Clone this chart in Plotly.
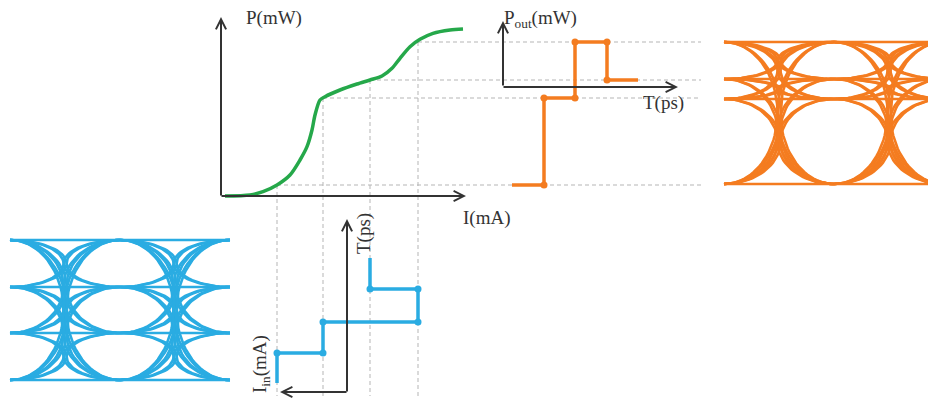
import math
import plotly.graph_objects as go

# drawing units: x to the right, y downward (same frame for every panel)

# laser L-I curve
LI_CURRENT = [225, 250, 263, 277, 290, 300, 307, 312, 315, 320, 325, 340, 357, 370, 382, 392, 400, 410, 420, 433, 450, 463]
LI_POWER = [196, 195, 191.7, 185, 175, 160, 146.7, 130, 115, 100, 96.7, 90, 84, 80, 76, 68.3, 58.3, 46.7, 39.3, 33.3, 30, 29]

# the four drive currents and the powers they land on
I_LEVELS = [277, 323, 370, 418]
P_LEVELS = [185, 98, 80, 42]

# symbol order sent, and the time steps of both waveforms
SYMBOLS = [0, 1, 3, 2]
T_OUT = [512, 544, 575, 607, 638]
T_IN = [383, 353, 322, 289, 258]

# eye diagrams
BLUE_EYE_LEVELS = [240, 287, 333, 380]
BLUE_EYE_CENTERS = [10, 120, 230]
ORANGE_EYE_LEVELS = [42, 79, 99, 184]
ORANGE_EYE_CENTERS = [724, 834, 944]
CROSS_JITTER = [-1.5, 1.5]

GREEN = "#25A84A"
ORANGE = "#F47C20"
BLUE = "#2AACE2"
DARK = "#333333"
GRID = "#B5B5B5"
FONT = "Liberation Serif"

# the page body adds an 8px margin, so shift the view to compensate
PAD = 8


def eye_paths(levels, centers, jitter, n=24):
    xs, ys = [], []
    for x0, x1 in zip(centers[:-1], centers[1:]):
        for a in levels:
            for b in levels:
                if a == b:
                    xs += [x0, x1, None]
                    ys += [a, b, None]
                    continue
                m = (a + b) / 2
                for d in jitter:
                    xc = (x0 + x1) / 2 + d
                    for k in range(n + 1):
                        th = k / n * math.pi / 2
                        xs.append(x0 + (xc - x0) * math.sin(th))
                        ys.append(a + (m - a) * (1 - math.cos(th)))
                    for k in range(1, n + 1):
                        th = k / n * math.pi / 2
                        xs.append(xc + (x1 - xc) * (1 - math.cos(th)))
                        ys.append(m + (b - m) * math.sin(th))
                    xs.append(None)
                    ys.append(None)
    return xs, ys


fig = go.Figure()

# projection lines from the curve
for i, p in zip(I_LEVELS, P_LEVELS):
    fig.add_trace(go.Scatter(x=[i, 701], y=[p, p], mode="lines",
                             line=dict(color=GRID, width=1, dash="4px,3px"), hoverinfo="skip"))
    fig.add_trace(go.Scatter(x=[i, i], y=[p, 396], mode="lines",
                             line=dict(color=GRID, width=1, dash="4px,3px"), hoverinfo="skip"))

# L-I curve
fig.add_trace(go.Scatter(x=LI_CURRENT, y=LI_POWER, mode="lines",
                         line=dict(color=GREEN, width=3.5, shape="spline", smoothing=0.8)))

# output power waveform
ox, oy = [], []
for k, s in enumerate(SYMBOLS):
    ox += [T_OUT[k], T_OUT[k + 1]]
    oy += [P_LEVELS[s], P_LEVELS[s]]
fig.add_trace(go.Scatter(x=ox, y=oy, mode="lines", line=dict(color=ORANGE, width=3.5)))
fig.add_trace(go.Scatter(x=ox[1:-1], y=oy[1:-1], mode="markers",
                         marker=dict(color=ORANGE, size=7)))

# input current waveform (time runs upward)
ix, iy = [], []
for k, s in enumerate(SYMBOLS):
    ix += [I_LEVELS[s], I_LEVELS[s]]
    iy += [T_IN[k], T_IN[k + 1]]
fig.add_trace(go.Scatter(x=ix, y=iy, mode="lines", line=dict(color=BLUE, width=3.5)))
fig.add_trace(go.Scatter(x=ix[1:-1], y=iy[1:-1], mode="markers",
                         marker=dict(color=BLUE, size=7)))

# eyes
bx, by = eye_paths(BLUE_EYE_LEVELS, BLUE_EYE_CENTERS, CROSS_JITTER)
fig.add_trace(go.Scatter(x=bx, y=by, mode="lines", line=dict(color=BLUE, width=2.6)))
rx, ry = eye_paths(ORANGE_EYE_LEVELS, ORANGE_EYE_CENTERS, CROSS_JITTER)
fig.add_trace(go.Scatter(x=rx, y=ry, mode="lines", line=dict(color=ORANGE, width=2.6)))

# axes with arrowheads: (tail x, tail y, head x, head y)
arrows = [
    (221, 197, 221, 17),
    (220, 196, 466, 196),
    (503, 87, 503, 21),
    (502, 87, 678, 87),
    (347, 393, 347, 219),
    (348, 392, 280, 392),
]
for tx, ty, hx, hy in arrows:
    fig.add_annotation(x=hx, y=hy, ax=tx, ay=ty, xref="x", yref="y", axref="x", ayref="y",
                       text="", showarrow=True, arrowhead=5, arrowsize=1, arrowwidth=2,
                       arrowcolor=DARK)

labels = [
    ("P(mW)", 274, 18, 0),
    ("I(mA)", 486, 218, 0),
    ("P<sub>out</sub>(mW)", 540, 19, 0),
    ("T(ps)", 663, 103, 0),
    ("T(ps)", 364, 234, -90),
    ("I<sub>in</sub>(mA)", 261, 364, -90),
]
for txt, x, y, ang in labels:
    fig.add_annotation(x=x, y=y, xref="x", yref="y", text=txt, showarrow=False,
                       textangle=ang, font=dict(family=FONT, size=19, color=DARK))

fig.update_layout(
    width=936, height=401, margin=dict(l=0, r=0, t=0, b=0),
    paper_bgcolor="white", plot_bgcolor="white", showlegend=False,
    xaxis=dict(range=[PAD, 936 + PAD], visible=False, fixedrange=True),
    yaxis=dict(range=[401 + PAD, PAD], visible=False, fixedrange=True),
)

fig.write_html("out.html")
